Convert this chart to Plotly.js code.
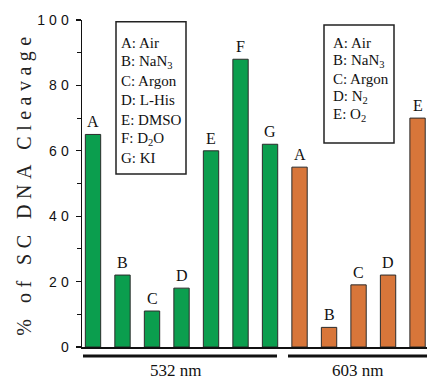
<!DOCTYPE html>
<html>
<head>
<meta charset="utf-8">
<script src="https://cdn.plot.ly/plotly-3.0.1.min.js"></script>
<style>
  html, body { margin: 0; padding: 0; background: #fff; }
  #chart { width: 427px; height: 379px; }
  .ytick text { letter-spacing: 4px; }
  .g-ytitle text { letter-spacing: 5.5px; }
</style>
</head>
<body>
<div id="chart"></div>
<script>
// ---- data ----
const labels532 = ['A', 'B', 'C', 'D', 'E', 'F', 'G'];
const values532 = [65, 22, 11, 18, 60, 88, 62];
const labels603 = ['A', 'B', 'C', 'D', 'E'];
const values603 = [55, 6, 19, 22, 70];
const legend532 = ['A: Air', 'B: NaN<sub>3</sub>', 'C: Argon', 'D: L-His', 'E: DMSO', 'F: D<sub>2</sub>O', 'G: KI'];
const legend603 = ['A: Air', 'B: NaN<sub>3</sub>', 'C: Argon', 'D: N<sub>2</sub>', 'E: O<sub>2</sub>'];
const groupNames = ['532 nm', '603 nm'];
const yTickVals = [0, 20, 40, 60, 80, 100];
const yTickText = ['0', '20', '40', '60', '80', '100'];

// ---- layout helpers (pixel -> paper) ----
const W = 427, H = 379, L = 82, R = 0, T = 20, B = 32;
const PW = W - L - R, PH = H - T - B;
const px = v => (v - L) / PW;
const py = v => (H - B - v) / PH;

const GREEN = '#0b9e4e', ORANGE = '#d8763a', EDGE = '#2b2b2b';
const SERIF = 'Liberation Serif, Times New Roman, serif';

const x532 = labels532.map((_, i) => i);
const x603 = labels603.map((_, i) => i + labels532.length);

const traces = [
  { type: 'bar', x: x532, y: values532, width: 0.52, name: groupNames[0],
    marker: { color: GREEN, line: { color: EDGE, width: 1 } }, hoverinfo: 'x+y' },
  { type: 'bar', x: x603, y: values603, width: 0.52, name: groupNames[1],
    marker: { color: ORANGE, line: { color: EDGE, width: 1 } }, hoverinfo: 'x+y' }
];

const annotations = [];
// letters above bars
labels532.forEach((t, i) => annotations.push({ x: x532[i], y: values532[i], xref: 'x', yref: 'y',
  text: t, showarrow: false, yanchor: 'bottom', yshift: 2, font: { family: SERIF, size: 16, color: '#111' } }));
labels603.forEach((t, i) => annotations.push({ x: x603[i], y: values603[i], xref: 'x', yref: 'y',
  text: t, showarrow: false, yanchor: 'bottom', yshift: 2, font: { family: SERIF, size: 16, color: '#111' } }));
// legend box texts
legend532.forEach((t, i) => annotations.push({ x: px(119), y: py(42.7 + 19.2 * i), xref: 'paper', yref: 'paper',
  text: t, showarrow: false, xanchor: 'left', yanchor: 'middle', font: { family: SERIF, size: 15, color: '#111' } }));
legend603.forEach((t, i) => annotations.push({ x: px(331), y: py(42.7 + 18.1 * i), xref: 'paper', yref: 'paper',
  text: t, showarrow: false, xanchor: 'left', yanchor: 'middle', font: { family: SERIF, size: 15, color: '#111' } }));
// group labels
annotations.push({ x: px(175), y: py(370), xref: 'paper', yref: 'paper', text: groupNames[0], showarrow: false,
  xanchor: 'center', yanchor: 'middle', font: { family: SERIF, size: 17, color: '#111' } });
annotations.push({ x: px(357.5), y: py(370), xref: 'paper', yref: 'paper', text: groupNames[1], showarrow: false,
  xanchor: 'center', yanchor: 'middle', font: { family: SERIF, size: 17, color: '#111' } });

const shapes = [
  { type: 'rect', xref: 'paper', yref: 'paper', x0: px(116), x1: px(186), y0: py(174), y1: py(21.7),
    line: { color: '#222', width: 1.5 }, fillcolor: 'rgba(0,0,0,0)' },
  { type: 'rect', xref: 'paper', yref: 'paper', x0: px(324), x1: px(394), y0: py(143), y1: py(25),
    line: { color: '#222', width: 1.5 }, fillcolor: 'rgba(0,0,0,0)' },
  { type: 'line', xref: 'paper', yref: 'paper', x0: px(83), x1: px(277), y0: py(356), y1: py(356),
    line: { color: '#111', width: 3 } },
  { type: 'line', xref: 'paper', yref: 'paper', x0: px(288), x1: px(427), y0: py(356), y1: py(356),
    line: { color: '#111', width: 3 } }
];

const layout = {
  width: W, height: H,
  margin: { l: L, r: R, t: T, b: B, pad: 0 },
  paper_bgcolor: '#fff', plot_bgcolor: '#fff',
  showlegend: false,
  bargap: 0,
  xaxis: { range: [-0.373, 11.32], showticklabels: false, ticks: '', showgrid: false, zeroline: false,
    showline: true, linecolor: '#111', linewidth: 1.5, fixedrange: true },
  yaxis: { range: [0, 100], tickvals: yTickVals, ticktext: yTickText, ticks: 'outside', ticklen: 5,
    tickwidth: 1.2, tickcolor: '#111', showgrid: false, zeroline: false, showline: true, linecolor: '#111',
    linewidth: 1.5, ticklabelstandoff: 0,
    tickfont: { family: 'Liberation Sans, Arial, sans-serif', size: 14, color: '#111' },
    minor: { tickvals: [10, 30, 50, 70, 90], ticks: 'outside', ticklen: 4, tickcolor: '#111', tickwidth: 1 },
    title: { text: '% of SC DNA Cleavage', standoff: 0,
      font: { family: SERIF, size: 20, color: '#222' } },
    fixedrange: true },
  annotations: annotations,
  shapes: shapes
};

Plotly.newPlot('chart', traces, layout, { displayModeBar: false, staticPlot: true });
</script>
</body>
</html>
